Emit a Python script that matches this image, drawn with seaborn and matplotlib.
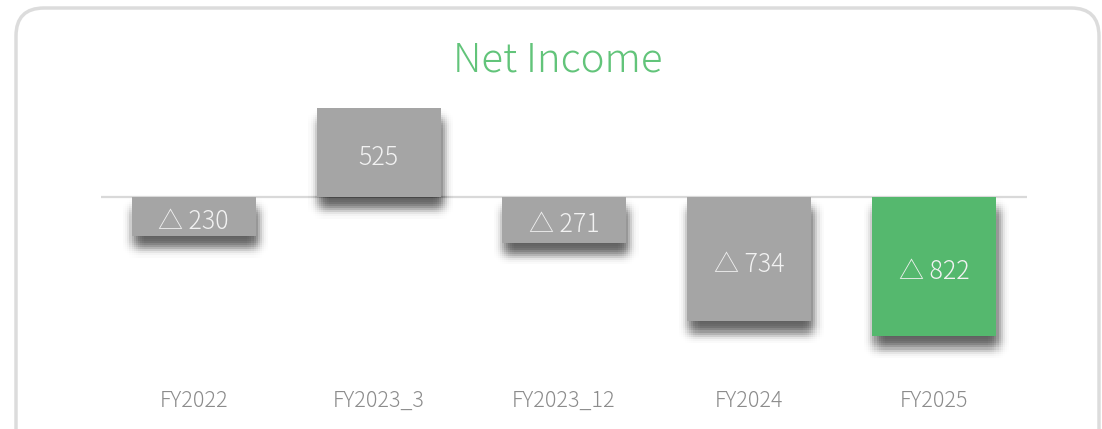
import numpy as np
import pandas as pd
import matplotlib
matplotlib.use('Agg')
import matplotlib.pyplot as plt
import matplotlib.patheffects as pe
from matplotlib.patches import FancyBboxPatch
import seaborn as sns

# data
categories = ['FY2022', 'FY2023_3', 'FY2023_12', 'FY2024', 'FY2025']
net_income = [-230, 525, -271, -734, -822]
bar_colors = ['#a5a5a5', '#a5a5a5', '#a5a5a5', '#a5a5a5', '#55b86e']

sns.set_theme(style='white')
plt.rcParams['font.family'] = ['Noto Sans CJK JP', 'DejaVu Sans']

df = pd.DataFrame({'period': categories, 'value': net_income})

fig = plt.figure(figsize=(11.02, 4.29), dpi=100)
# rounded frame (pixel coords)
frame = FancyBboxPatch((16, -60), 1083, 481, boxstyle='round,pad=0,rounding_size=28',
                       transform=None, facecolor='white', edgecolor='#dcdcdc', linewidth=2.5,
                       zorder=-5)
fig.patches.append(frame)

ax = fig.add_axes([101/1102, 0.1457, 926/1102, 0.632])
ax.set_facecolor('none')
sns.barplot(data=df, x='period', y='value', hue='period', palette=bar_colors, legend=False,
            width=0.67, saturation=1, ax=ax, zorder=3, edgecolor='none', linewidth=0)

# soft (fake blurred) shadow under bars
shadow = []
offs = np.arange(-9, 9.1, 1.5)
wts = {}
for dx in offs:
    for dy in offs:
        wts[(dx, dy)] = np.exp(-(dx**2 + dy**2) / (2 * 3.8**2))
tot = sum(wts.values())
for (dx, dy), w in wts.items():
    shadow.append(pe.SimplePatchShadow(offset=(dx + 1.5, dy - 8), shadow_rgbFace='black',
                                       alpha=0.75 * w / tot))
shadow.append(pe.Normal())
for p in ax.patches:
    p.set_path_effects(shadow)

ax.axhline(0, color='#d9d9d9', linewidth=1.6, zorder=2)
ax.set_xlim(-0.5, 4.5)
ax.set_ylim(-1000, 600)

for i, v in enumerate(net_income):
    label = str(v) if v >= 0 else '△ ' + str(-v)
    ax.text(i, v / 2 - 12, label, ha='center', va='center_baseline', color='#f2f2f2', fontsize=18,
            fontweight='light', zorder=5)

ax.set_xlabel('')
ax.set_ylabel('')
ax.set_yticks([])
ax.tick_params(axis='x', length=0, pad=17, labelsize=15.5, labelcolor='#8c8c8c')
for t in ax.get_xticklabels():
    t.set_fontweight('light')
sns.despine(ax=ax, left=True, bottom=True)

fig.text(558/1102, 1 - 60/429, 'Net Income', ha='center', va='center', color='#62c47a',
         fontsize=29, fontweight='light')

fig.savefig('out.png', dpi=100)
